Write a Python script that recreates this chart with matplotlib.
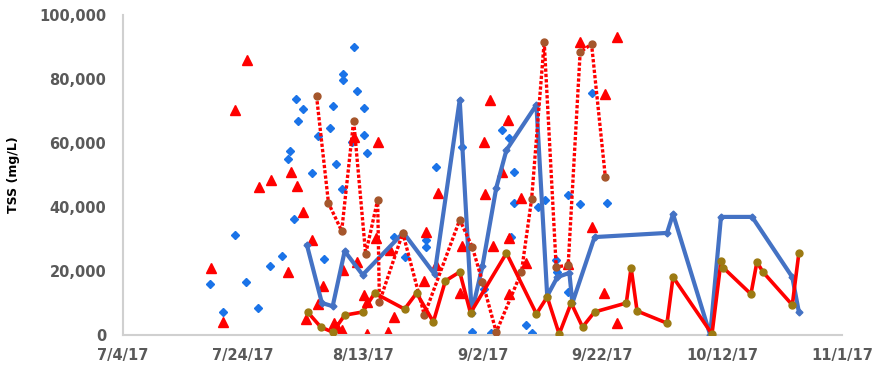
import matplotlib
matplotlib.use("Agg")
import matplotlib.pyplot as plt
import matplotlib.dates as mdates
from matplotlib.ticker import FuncFormatter, FixedLocator, MultipleLocator
from datetime import datetime
import numpy as np

# sampling days are counted from 7/4/17
START = datetime(2017, 7, 4)

# grab samples (blue diamonds, no line)
grab_blue_day = [14.5, 16.7, 18.7, 20.5, 22.5, 24.5, 26.5, 28.5, 27.5, 27.8, 28.8, 29.2,
                 38.5, 36.8, 36.7, 39.0, 30.0, 35.0, 40.3, 34.5, 32.5, 40.3, 38.3, 40.8,
                 35.5, 31.5, 36.5, 33.5, 45.3, 47.0, 50.5, 50.5, 52.3, 56.5, 58.2, 60.3,
                 61.5, 63.3, 64.5, 65.3, 65.3, 64.8, 67.3, 68.3, 69.2, 70.5, 72.3, 72.5,
                 74.2, 74.3, 76.3, 78.2, 80.8]
grab_blue_tss = [15900, 7200, 31300, 16600, 8400, 21600, 24700, 36300, 55000, 57500, 73800, 66900,
                 90000, 81600, 79700, 76300, 70600, 71600, 70900, 64700, 62200, 62500, 60300, 56900,
                 53400, 50600, 45600, 23800, 30600, 24400, 29700, 27500, 52500, 58800, 900, 14400,
                 600, 64100, 61600, 50900, 41300, 30600, 3100, 600, 40000, 42200, 23400, 19700,
                 13400, 43800, 40900, 75600, 41300]

# grab samples (red triangles, no line)
grab_red_day = [20.7, 18.7, 28.0, 24.7, 22.7, 29.0, 14.7, 27.5, 16.7, 30.0, 31.5, 38.5,
                42.5, 42.3, 36.7, 39.0, 33.3, 32.5, 30.5, 35.2, 35.7, 36.5, 40.3, 40.7,
                40.8, 44.3, 45.3, 44.5, 50.5, 50.3, 52.5, 52.3, 56.5, 56.2, 60.3, 61.3,
                60.5, 61.8, 62.3, 63.3, 64.2, 64.5, 64.5, 66.5, 67.3, 72.8, 74.3, 76.3,
                78.3, 80.5, 80.2, 82.5, 82.5]
grab_red_tss = [85900, 70300, 50900, 48400, 46300, 46600, 20900, 19700, 4100, 38400, 29700, 61900,
                60300, 30300, 20300, 22800, 15300, 9700, 5000, 3800, 2500, 1600, 12500, 10300,
                300, 900, 5600, 26600, 32200, 16900, 44400, 21900, 27800, 13100, 60300, 73400,
                44100, 27800, 300, 50900, 67200, 30300, 12800, 42800, 22500, 600, 22200, 91600,
                33800, 75300, 13100, 93100, 3800]

# composite sampler, site 1 (blue line)
comp1_day = [30.7, 33.2, 35.0, 37.0, 40.0, 46.8, 52.0, 56.2, 58.2, 60.0, 62.3, 64.0, 69.0,
             70.8, 72.5, 74.5, 75.0, 78.7, 90.8, 91.8, 98.0, 99.8, 105.0, 111.7, 112.8]
comp1_tss = [28100, 10000, 9000, 26200, 18800, 32000, 19000, 73500, 7000, 21600, 46000, 57800, 71900,
             12200, 18100, 19400, 10000, 30600, 31900, 37800, 0, 36900, 36900, 18100, 7200]

# composite sampler, site 2 (red dotted line)
comp2_day = [32.3, 34.3, 36.5, 38.5, 40.5, 42.5, 42.8, 46.7, 50.3, 56.2, 58.3, 60.0, 62.3,
             66.5, 68.2, 70.3, 72.3, 74.3, 76.3, 78.2, 80.5]
comp2_tss = [74700, 41200, 32500, 67000, 25300, 42200, 10300, 31900, 6200, 36000, 27500, 16600, 900,
             19700, 42500, 91600, 21200, 21900, 88400, 90900, 49400]

# composite sampler, site 3 (red solid line)
comp3_day = [30.8, 33.0, 35.0, 37.0, 40.0, 42.0, 47.0, 49.0, 51.8, 53.8, 56.2, 58.0, 64.0,
             69.0, 70.8, 72.8, 74.8, 76.7, 78.7, 84.0, 84.8, 85.8, 90.8, 91.8, 98.3,
             99.8, 100.2, 104.8, 105.8, 106.8, 111.7, 112.8]
comp3_tss = [7200, 2500, 900, 6200, 7200, 13100, 8100, 13100, 4100, 16900, 19700, 6900, 25600,
             6600, 11900, 300, 10000, 2500, 7200, 10000, 21000, 7500, 3700, 18100, 300,
             23000, 21000, 12800, 22800, 19700, 9400, 25600]

t0 = mdates.date2num(START)


def to_dates(days):
    return t0 + np.asarray(days)


def date_label(v, pos):
    d = mdates.num2date(v)
    return f'{d.month}/{d.day}/{d:%y}'


fig = plt.figure(figsize=(8.74, 3.71), dpi=100)
ax = fig.add_axes([0.1407, 0.097, 0.8227, 0.8627])

ax.plot(to_dates(grab_blue_day), grab_blue_tss, linestyle='none', marker='D', ms=4.4,
        color='#1a73e8', zorder=2)
ax.plot(to_dates(grab_red_day), grab_red_tss, linestyle='none', marker='^', ms=6.5,
        color='#ff0000', zorder=2)
ax.plot(to_dates(comp1_day), comp1_tss, color='#4472c4', lw=3, marker='D', ms=3.5,
        mfc='#4472c4', mec='#4472c4', zorder=3)
ax.plot(to_dates(comp2_day), comp2_tss, color='#ff0000', lw=2.4, linestyle=(0, (1, 0.6)),
        marker='o', ms=5, mfc='#a5562b', mec='#a5562b', zorder=4)
ax.plot(to_dates(comp3_day), comp3_tss, color='#ff0000', lw=2.6, marker='o', ms=5,
        mfc='#9c7a12', mec='#9c7a12', zorder=5)

ax.set_xlim(t0, t0 + 120)
ax.set_ylim(0, 100000)
ax.xaxis.set_major_locator(FixedLocator(t0 + np.arange(0, 121, 20)))
ax.xaxis.set_major_formatter(FuncFormatter(date_label))
ax.yaxis.set_major_locator(MultipleLocator(20000))
ax.yaxis.set_major_formatter(FuncFormatter(lambda v, pos: f'{int(v):,}'))

for lbl in ax.get_xticklabels() + ax.get_yticklabels():
    lbl.set_fontweight('bold')
ax.tick_params(axis='both', length=0, labelsize=10.5, labelcolor='#595959')
ax.tick_params(axis='x', pad=9)
ax.tick_params(axis='y', pad=12)

ax.set_ylabel('TSS (mg/L)', fontsize=9, fontweight='bold', color='black', labelpad=14)

for side in ('top', 'right'):
    ax.spines[side].set_visible(False)
ax.spines['left'].set_color('#d0d0d0')
ax.spines['left'].set_linewidth(1.5)
ax.spines['bottom'].set_color('#d0d0d0')
ax.spines['bottom'].set_linewidth(1.5)

fig.savefig('out.png', dpi=100)
